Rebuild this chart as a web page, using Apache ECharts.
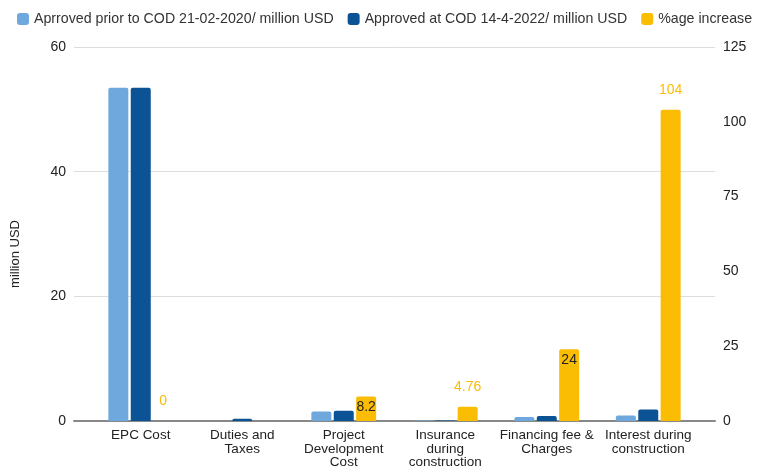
<!DOCTYPE html>
<html>
<head>
<meta charset="utf-8">
<script src="https://cdn.jsdelivr.net/npm/echarts@6/dist/echarts.min.js"></script>
<style>
  html, body { margin: 0; padding: 0; background: #ffffff; }
  #chart { width: 759px; height: 468px; }
</style>
</head>
<body>
<div id="chart"></div>
<script>
// Cost components
const categories = [
  'EPC Cost',
  'Duties and\nTaxes',
  'Project\nDevelopment\nCost',
  'Insurance\nduring\nconstruction',
  'Financing fee &\nCharges',
  'Interest during\nconstruction'
];
// million USD
const approvedPrior = [53.45, 0, 1.52, 0.08, 0.65, 0.9];
const approvedCOD = [53.45, 0.35, 1.64, 0.085, 0.8, 1.84];
// percentage increase
const pctIncrease = [0, null, 8.2, 4.76, 24, 104];
// labels drawn inside the bar (true) or above it (false)
const pctInside = [false, false, true, false, true, false];

const leftTicks = { min: 0, max: 60, interval: 20 };
const rightTicks = { min: 0, max: 125, interval: 25 };

const seriesNames = [
  'Aprroved prior to COD 21-02-2020/ million USD',
  'Approved at COD 14-4-2022/ million USD',
  '%age increase'
];
const colors = ['#6fa8dc', '#0b5394', '#fbbc04'];
const font = '"Liberation Sans", Arial, sans-serif';

const chart = echarts.init(document.getElementById('chart'), null, { renderer: 'canvas' });

const pctData = pctIncrease.map((v, i) => {
  if (v === null) return null;
  return {
    value: v,
    label: pctInside[i]
      ? { show: true, position: 'insideTop', distance: 4, color: '#222222', fontSize: 14, fontFamily: font }
      : { show: true, position: 'top', distance: 13, color: '#fbbc04', fontSize: 14, fontFamily: font }
  };
});

const gridTop = 47, gridBottom = 47;

chart.setOption({
  backgroundColor: '#ffffff',
  animation: false,
  color: colors,
  textStyle: { fontFamily: font },
  legend: {
    top: 7,
    left: 12,
    itemWidth: 12,
    itemHeight: 12,
    itemGap: 14,
    icon: 'roundRect',
    textStyle: { fontSize: 14.2, color: '#333333', fontFamily: font, padding: [0, 0, 0, 0] },
    data: seriesNames
  },
  grid: [
    // frame: value scales, gridlines and baseline
    { left: 74, right: 44, top: gridTop, bottom: gridBottom, outerBoundsMode: 'none', containLabel: false },
    // bars
    { left: 90, right: 60, top: gridTop, bottom: gridBottom, outerBoundsMode: 'none', containLabel: false }
  ],
  xAxis: [
    {
      gridIndex: 0, type: 'value', min: 0, max: 1,
      axisLine: { show: true, onZero: false, lineStyle: { color: '#888888', width: 2 } },
      axisTick: { show: false }, axisLabel: { show: false }, splitLine: { show: false }
    },
    {
      gridIndex: 1, type: 'category', data: categories,
      axisLine: { show: false }, axisTick: { show: false },
      axisLabel: { color: '#222222', fontSize: 13.5, lineHeight: 13.3, margin: 8, interval: 0, fontFamily: font }
    }
  ],
  yAxis: [
    {
      gridIndex: 0, type: 'value', position: 'left', ...leftTicks,
      name: 'million USD', nameLocation: 'middle', nameGap: 52, nameRotate: 90,
      nameTextStyle: { color: '#222222', fontSize: 13, fontFamily: font, padding: [0, 40, 0, 0] },
      axisLine: { show: false }, axisTick: { show: false },
      axisLabel: { color: '#222222', fontSize: 14, margin: 8, fontFamily: font },
      splitLine: { show: true, lineStyle: { color: '#dddddd', width: 1 } }
    },
    {
      gridIndex: 0, type: 'value', position: 'right', ...rightTicks,
      axisLine: { show: false }, axisTick: { show: false },
      axisLabel: { color: '#222222', fontSize: 14, margin: 8, fontFamily: font },
      splitLine: { show: false }
    },
    {
      gridIndex: 1, type: 'value', position: 'left', ...leftTicks, show: false
    },
    {
      gridIndex: 1, type: 'value', position: 'right', ...rightTicks, show: false
    }
  ],
  series: [
    {
      name: seriesNames[0], type: 'bar', xAxisIndex: 1, yAxisIndex: 2,
      data: approvedPrior, barWidth: 20, barGap: '12%',
      itemStyle: { color: colors[0], borderRadius: [2, 2, 0, 0] }
    },
    {
      name: seriesNames[1], type: 'bar', xAxisIndex: 1, yAxisIndex: 2,
      data: approvedCOD, barWidth: 20, barGap: '12%',
      itemStyle: { color: colors[1], borderRadius: [2, 2, 0, 0] }
    },
    {
      name: seriesNames[2], type: 'bar', xAxisIndex: 1, yAxisIndex: 3,
      data: pctData, barWidth: 20, barGap: '12%',
      itemStyle: { color: colors[2], borderRadius: [2, 2, 0, 0] }
    }
  ]
});
</script>
</body>
</html>
